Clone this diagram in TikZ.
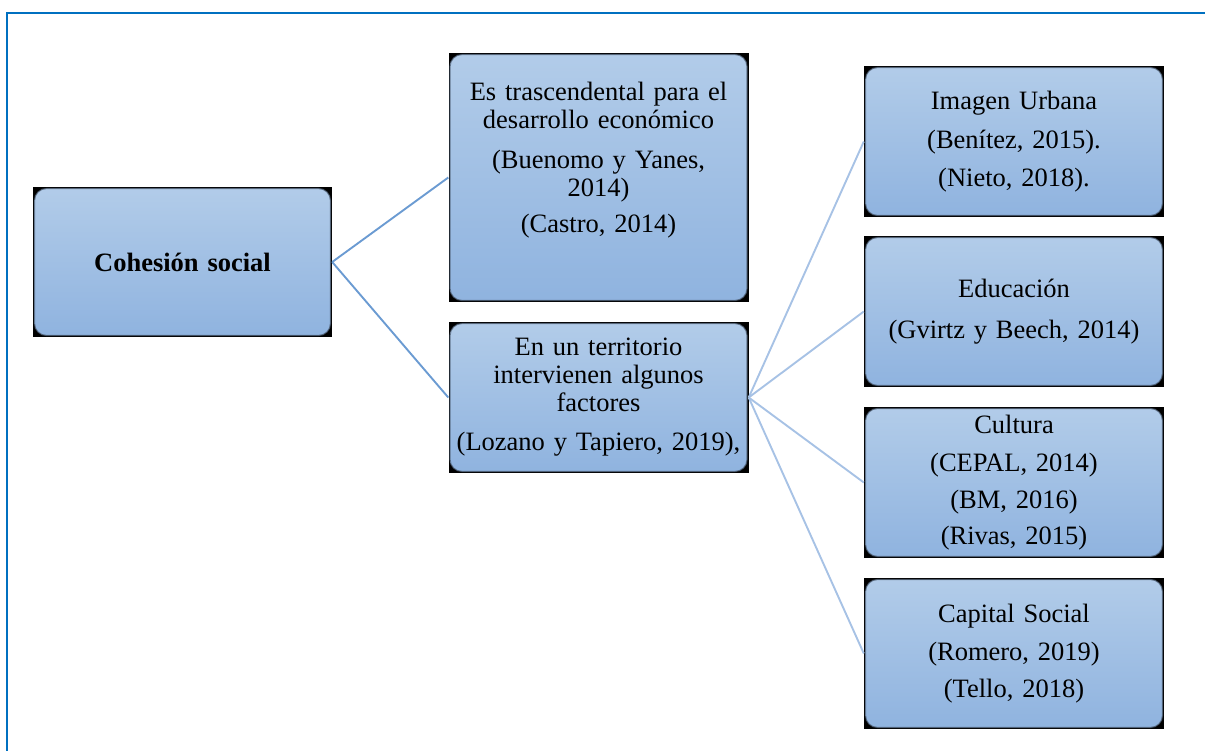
\documentclass[tikz,border=0pt]{standalone}
\usepackage{fontspec}
\setmainfont{Liberation Serif}
\usetikzlibrary{calc}
\definecolor{framecol}{HTML}{0070C0}
\definecolor{boxtop}{HTML}{B2CCE9}
\definecolor{boxbot}{HTML}{8FB3DF}
\definecolor{boxedge}{HTML}{4A5A6E}
\definecolor{linkone}{HTML}{6B9BD2}
\definecolor{linktwo}{HTML}{A7C2E5}
\tikzset{
  cbox/.style={rectangle, fill=black, inner sep=0pt, minimum width=300, minimum height=151,
    text width=290, align=center, font=\fontsize{26.5}{28}\selectfont,
    path picture={\shade[top color=boxtop, bottom color=boxbot, rounded corners=12pt,
        draw=boxedge, draw opacity=0.7, line width=1.2pt]
      ($(path picture bounding box.south west)+(1.5,-1.5)$) rectangle
      ($(path picture bounding box.north east)+(-1.5,1.5)$);}},
  linkA/.style={draw=linkone, line width=1.9pt},
  linkB/.style={draw=linktwo, line width=1.9pt}
}
\begin{document}
\begin{tikzpicture}[x=1pt,y=-1pt]
			\useasboundingbox (0,0) rectangle (1205,751);
			%%%%% FRAME %%%%%
			\draw[framecol, line width=2.6pt] (7,760) -- (7,13) -- (1215,13);
			
			%%%%% BOXES %%%%%
			\node[cbox, minimum width=299, minimum height=150] (coh) at (182.5,262) {\bfseries Cohesión social};
			
			\node[cbox, minimum height=249] (tras) at (598.5,177.5)
			  {Es trascendental para el\\desarrollo económico\\[12pt](Buenomo y Yanes,\\2014)\\[8pt](Castro, 2014)\\[12pt]\mbox{}};
			\node[cbox] (terr) at (598.5,397.5)
			  {En un territorio\\intervienen algunos\\factores\\[11pt](Lozano y Tapiero, 2019),};
			
			\node[cbox] (imag) at (1014,141.5) {Imagen Urbana\\[11pt](Benítez, 2015).\\[10pt](Nieto, 2018).};
			\node[cbox] (educ) at (1014,311.5) {Educación\\[13pt](Gvirtz y Beech, 2014)};
			\node[cbox] (cult) at (1014,482.5) {Cultura\\[10pt](CEPAL, 2014)\\[9pt](BM, 2016)\\[8pt](Rivas, 2015)};
			\node[cbox] (capi) at (1014,653.5) {Capital Social\\[10pt](Romero, 2019)\\[9pt](Tello, 2018)};
			
			%%%%% LINKS %%%%%
			\draw[linkA] (coh.east) -- (tras.west);
			\draw[linkA] (coh.east) -- (terr.west);
			\foreach \n in {imag,educ,cult,capi}
			  \draw[linkB] (terr.east) -- (\n.west);
\end{tikzpicture}
\end{document}
